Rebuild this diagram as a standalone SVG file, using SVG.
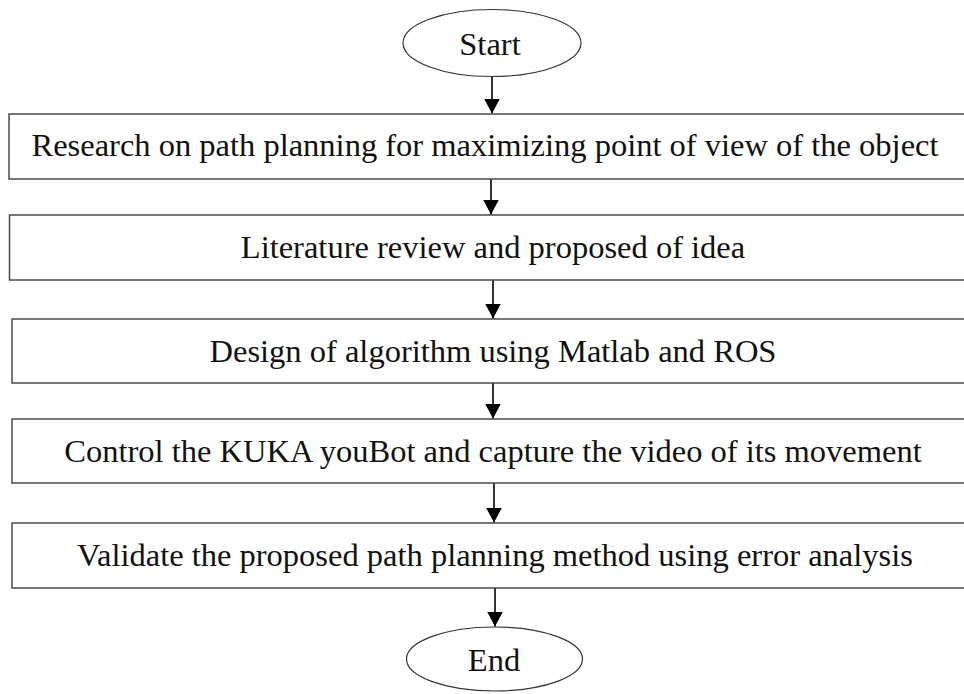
<svg xmlns="http://www.w3.org/2000/svg" width="964" height="694" viewBox="0 0 964 694">
<defs>
<style>
.box{fill:#fff;stroke:#4a4a4a;stroke-width:1.5}
.ell{fill:#fff;stroke:#333;stroke-width:1.2}
.t{font-family:"Liberation Serif","Times New Roman",serif;font-size:32.5px;fill:#111;text-anchor:middle}
.c{stroke:#000;stroke-width:1.6;fill:none}
</style>
<marker id="ah" markerUnits="userSpaceOnUse" markerWidth="16" markerHeight="17" refX="15" refY="8" orient="auto">
<path d="M0,0 L15,8 L0,16 Z" fill="#000"/>
</marker>
</defs>
<rect width="964" height="694" fill="#fff"/>
<g id="connectors">
<line class="c" x1="492" y1="77" x2="492" y2="113.5" marker-end="url(#ah)"/>
<line class="c" x1="491" y1="179" x2="491" y2="214.5" marker-end="url(#ah)"/>
<line class="c" x1="493" y1="280" x2="493" y2="318.5" marker-end="url(#ah)"/>
<line class="c" x1="493" y1="383" x2="493" y2="418.5" marker-end="url(#ah)"/>
<line class="c" x1="494" y1="483" x2="494" y2="522.5" marker-end="url(#ah)"/>
<line class="c" x1="495" y1="588" x2="495" y2="626.5" marker-end="url(#ah)"/>
</g>
<g id="start">
<ellipse class="ell" cx="492" cy="43" rx="89" ry="33.5"/>
<text class="t" x="490" y="55">Start</text>
</g>
<g id="step1">
<rect class="box" x="9" y="114" width="960" height="65"/>
<text class="t" x="485" y="156">Research on path planning for maximizing point of view of the object</text>
</g>
<g id="step2">
<rect class="box" x="9.5" y="215" width="960" height="65"/>
<text class="t" x="493" y="258">Literature review and proposed of idea</text>
</g>
<g id="step3">
<rect class="box" x="12" y="319" width="960" height="64"/>
<text class="t" x="493" y="362">Design of algorithm using Matlab and ROS</text>
</g>
<g id="step4">
<rect class="box" x="12" y="419" width="960" height="64"/>
<text class="t" x="493" y="462">Control the KUKA youBot and capture the video of its movement</text>
</g>
<g id="step5">
<rect class="box" x="12" y="523" width="960" height="65"/>
<text class="t" x="495" y="566">Validate the proposed path planning method using error analysis</text>
</g>
<g id="end">
<ellipse class="ell" cx="494.5" cy="659" rx="88" ry="32"/>
<text class="t" x="494" y="671">End</text>
</g>
</svg>
